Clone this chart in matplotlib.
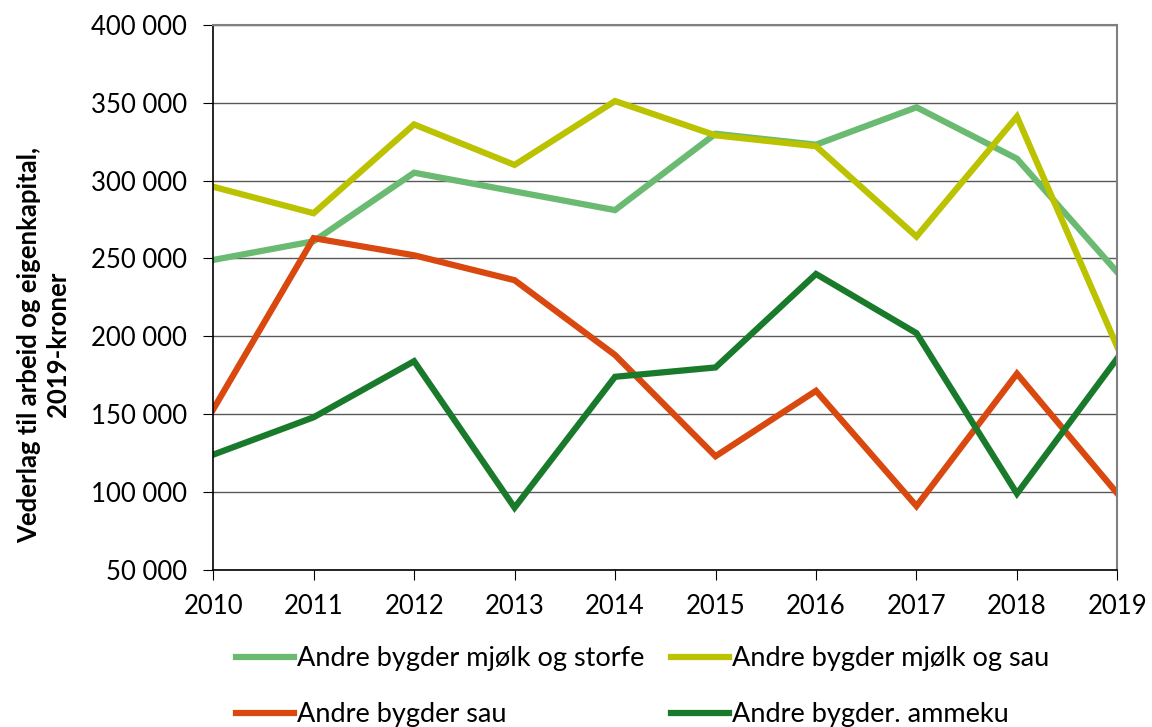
import matplotlib.pyplot as plt
from matplotlib.ticker import FuncFormatter

# Data
years = [2010, 2011, 2012, 2013, 2014, 2015, 2016, 2017, 2018, 2019]
mjolk_storfe = [249000, 261000, 305000, 293000, 281000, 330000, 323000, 347000, 314000, 241000]
mjolk_sau = [296000, 279000, 336000, 310000, 351000, 329000, 322000, 264000, 341000, 193000]
sau = [153000, 263000, 252000, 236000, 188000, 123000, 165000, 91000, 176000, 99000]
ammeku = [124000, 148000, 184000, 90000, 174000, 180000, 240000, 202000, 99000, 186000]

plt.rcParams['font.family'] = ['Lato', 'DejaVu Sans']

fig = plt.figure(figsize=(11.52, 7.27), dpi=100)
ax = fig.add_axes([0.185, 0.216, 0.785, 0.75])

l1, = ax.plot(years, mjolk_storfe, color='#6ABA72', lw=4.5, label='Andre bygder mjølk og storfe', solid_joinstyle='miter')
l2, = ax.plot(years, mjolk_sau, color='#BBC200', lw=4.5, label='Andre bygder mjølk og sau', solid_joinstyle='miter')
l3, = ax.plot(years, sau, color='#D9480F', lw=4.5, label='Andre bygder sau', solid_joinstyle='miter')
l4, = ax.plot(years, ammeku, color='#1A7A2C', lw=4.5, label='Andre bygder. ammeku', solid_joinstyle='miter')

ax.set_xlim(2010, 2019)
ax.set_ylim(50000, 400000)
ax.set_xticks(years)
ax.set_yticks(range(50000, 400001, 50000))
ax.yaxis.set_major_formatter(FuncFormatter(lambda v, p: f'{int(v):,}'.replace(',', ' ')))
ax.tick_params(labelsize=18.5, length=7, color='black', direction='out')
ax.tick_params(axis='x', pad=10)
ax.tick_params(axis='y', pad=12)

ax.grid(axis='y', color='#595959', lw=1)
ax.set_axisbelow(True)
for s in ['top', 'right']:
    ax.spines[s].set_color('#808080')
    ax.spines[s].set_linewidth(1.5)
for s in ['left', 'bottom']:
    ax.spines[s].set_color('black')
    ax.spines[s].set_linewidth(1.2)

ax.set_ylabel('Vederlag til arbeid og eigenkapital,\n2019-kroner', fontsize=18.5, fontweight='bold',
              linespacing=1.25)
ax.yaxis.set_label_coords(-0.158, 0.413)

# column-major fill, so this order reads row-wise like the reference
ax.legend([l1, l3, l2, l4], [l.get_label() for l in [l1, l3, l2, l4]],
          loc='upper left', bbox_to_anchor=(-0.002, -0.095), ncol=2, frameon=False, fontsize=19.5,
          handlelength=2.15, handletextpad=0.1, columnspacing=1.0, labelspacing=1.15)

plt.savefig('out.png', dpi=100)
